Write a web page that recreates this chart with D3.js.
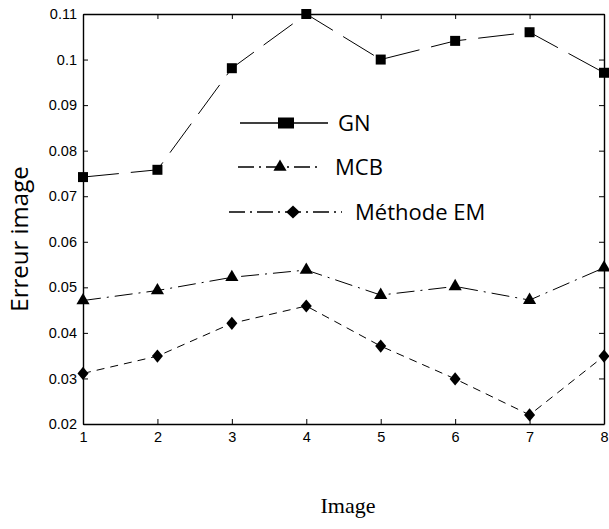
<!DOCTYPE html>
<html>
<head>
<meta charset="utf-8">
<script src="https://cdn.jsdelivr.net/npm/d3@7"></script>
<style>
  body { margin: 0; background: #fff; }
  svg { display: block; }
</style>
</head>
<body>
<svg id="chart" width="609" height="529"></svg>
<script>
// data
var images = [1, 2, 3, 4, 5, 6, 7, 8]
var gn  = [0.0742, 0.0758, 0.0981, 0.1100, 0.1000, 0.1041, 0.1060, 0.0971]
var mcb = [0.0471, 0.0493, 0.0522, 0.0538, 0.0483, 0.0502, 0.0472, 0.0543]
var em  = [0.0311, 0.0349, 0.0421, 0.0459, 0.0371, 0.0299, 0.0220, 0.0349]
var yTicks = [0.02, 0.03, 0.04, 0.05, 0.06, 0.07, 0.08, 0.09, 0.1, 0.11]
var seriesNames = ["GN", "MCB", "Méthode EM"]

var svg = d3.select("#chart")

var xScale = d3.scaleLinear().domain([1, 8]).range([83, 604])
var yScale = d3.scaleLinear().domain([0.02, 0.11]).range([424, 14])

var series = [
    {name: seriesNames[0], values: gn,  dash: "36,12",    symbol: d3.symbolSquare,   size: 100, stretch: "",               legDash: "44,0"},
    {name: seriesNames[1], values: mcb, dash: "18,6,2,6", symbol: d3.symbolTriangle, size: 75,  stretch: "",               legDash: "16,5,2,5"},
    {name: seriesNames[2], values: em,  dash: "8,6",      symbol: d3.symbolDiamond,  size: 50,  stretch: " scale(1.45,1)", legDash: "16,5,2,5"}
]

// axes (ticks pointing in, on all four sides)
var fmt = d => String(+d.toFixed(2))
svg.append("g")
    .attr("transform", "translate(0,424)")
    .call(d3.axisBottom(xScale).tickValues(images).tickSizeInner(-5).tickSizeOuter(0).tickPadding(8).tickFormat(d3.format("d")))
svg.append("g")
    .attr("transform", "translate(83,0)")
    .call(d3.axisLeft(yScale).tickValues(yTicks).tickSizeInner(-5).tickSizeOuter(0).tickPadding(6).tickFormat(fmt))
svg.append("g")
    .attr("transform", "translate(0,14)")
    .call(d3.axisTop(xScale).tickValues(images).tickSizeInner(-5).tickSizeOuter(0).tickFormat(""))
svg.append("g")
    .attr("transform", "translate(604,0)")
    .call(d3.axisRight(yScale).tickValues(yTicks).tickSizeInner(-5).tickSizeOuter(0).tickFormat(""))

svg.selectAll(".domain").attr("stroke", "#000").attr("stroke-width", 1.4)
svg.selectAll(".tick line").attr("stroke", "#000")
svg.selectAll(".tick text")
    .attr("font-family", "Liberation Sans, Arial, sans-serif")
    .attr("font-size", 14.5)
    .attr("fill", "#000")

// lines
var lineGen = d3.line()
    .x((d, i) => xScale(images[i]))
    .y(d => yScale(d))

svg.selectAll(".series")
    .data(series)
    .join("path")
    .attr("class", "series")
    .attr("d", d => lineGen(d.values))
    .attr("fill", "none")
    .attr("stroke", "#000")
    .attr("stroke-width", 1)
    .attr("stroke-dasharray", d => d.dash)

// markers
series.forEach(function(s) {
    svg.selectAll(null)
        .data(s.values)
        .join("path")
        .attr("transform", (d, i) => `translate(${xScale(images[i])},${yScale(d)})` + s.stretch)
        .attr("d", d3.symbol().type(s.symbol).size(s.size))
        .attr("fill", "#000")
})

// legend
var legend = [
    {x1: 240, x2: 328, mx: 286, y: 123, tx: 338, sc: " scale(1.6,1.1)"},
    {x1: 238, x2: 322, mx: 280, y: 167, tx: 335, sc: ""},
    {x1: 229, x2: 342, mx: 293, y: 212, tx: 355, sc: " scale(1.8,1)"}
]
legend.forEach(function(l, i) {
    var s = series[i]
    svg.append("line")
        .attr("x1", l.x1).attr("x2", l.x2)
        .attr("y1", l.y).attr("y2", l.y)
        .attr("stroke", "#000")
        .attr("stroke-width", 1.6)
        .attr("stroke-dasharray", s.legDash)
    svg.append("path")
        .attr("transform", `translate(${l.mx},${l.y})` + l.sc)
        .attr("d", d3.symbol().type(s.symbol).size(s.size))
        .attr("fill", "#000")
    svg.append("text")
        .attr("x", l.tx)
        .attr("y", l.y)
        .attr("dy", "0.36em")
        .attr("font-family", "Open Sans, sans-serif")
        .attr("font-size", 22)
        .text(s.name)
})

// axis titles
svg.append("text")
    .attr("text-anchor", "middle")
    .attr("x", 348)
    .attr("y", 513)
    .attr("font-family", "Liberation Serif, Times New Roman, serif")
    .attr("font-size", 22)
    .text("Image")

svg.append("text")
    .attr("text-anchor", "middle")
    .attr("transform", "translate(28,239) rotate(-90)")
    .attr("font-family", "Open Sans, sans-serif")
    .attr("font-size", 24)
    .text("Erreur image")
</script>
</body>
</html>
